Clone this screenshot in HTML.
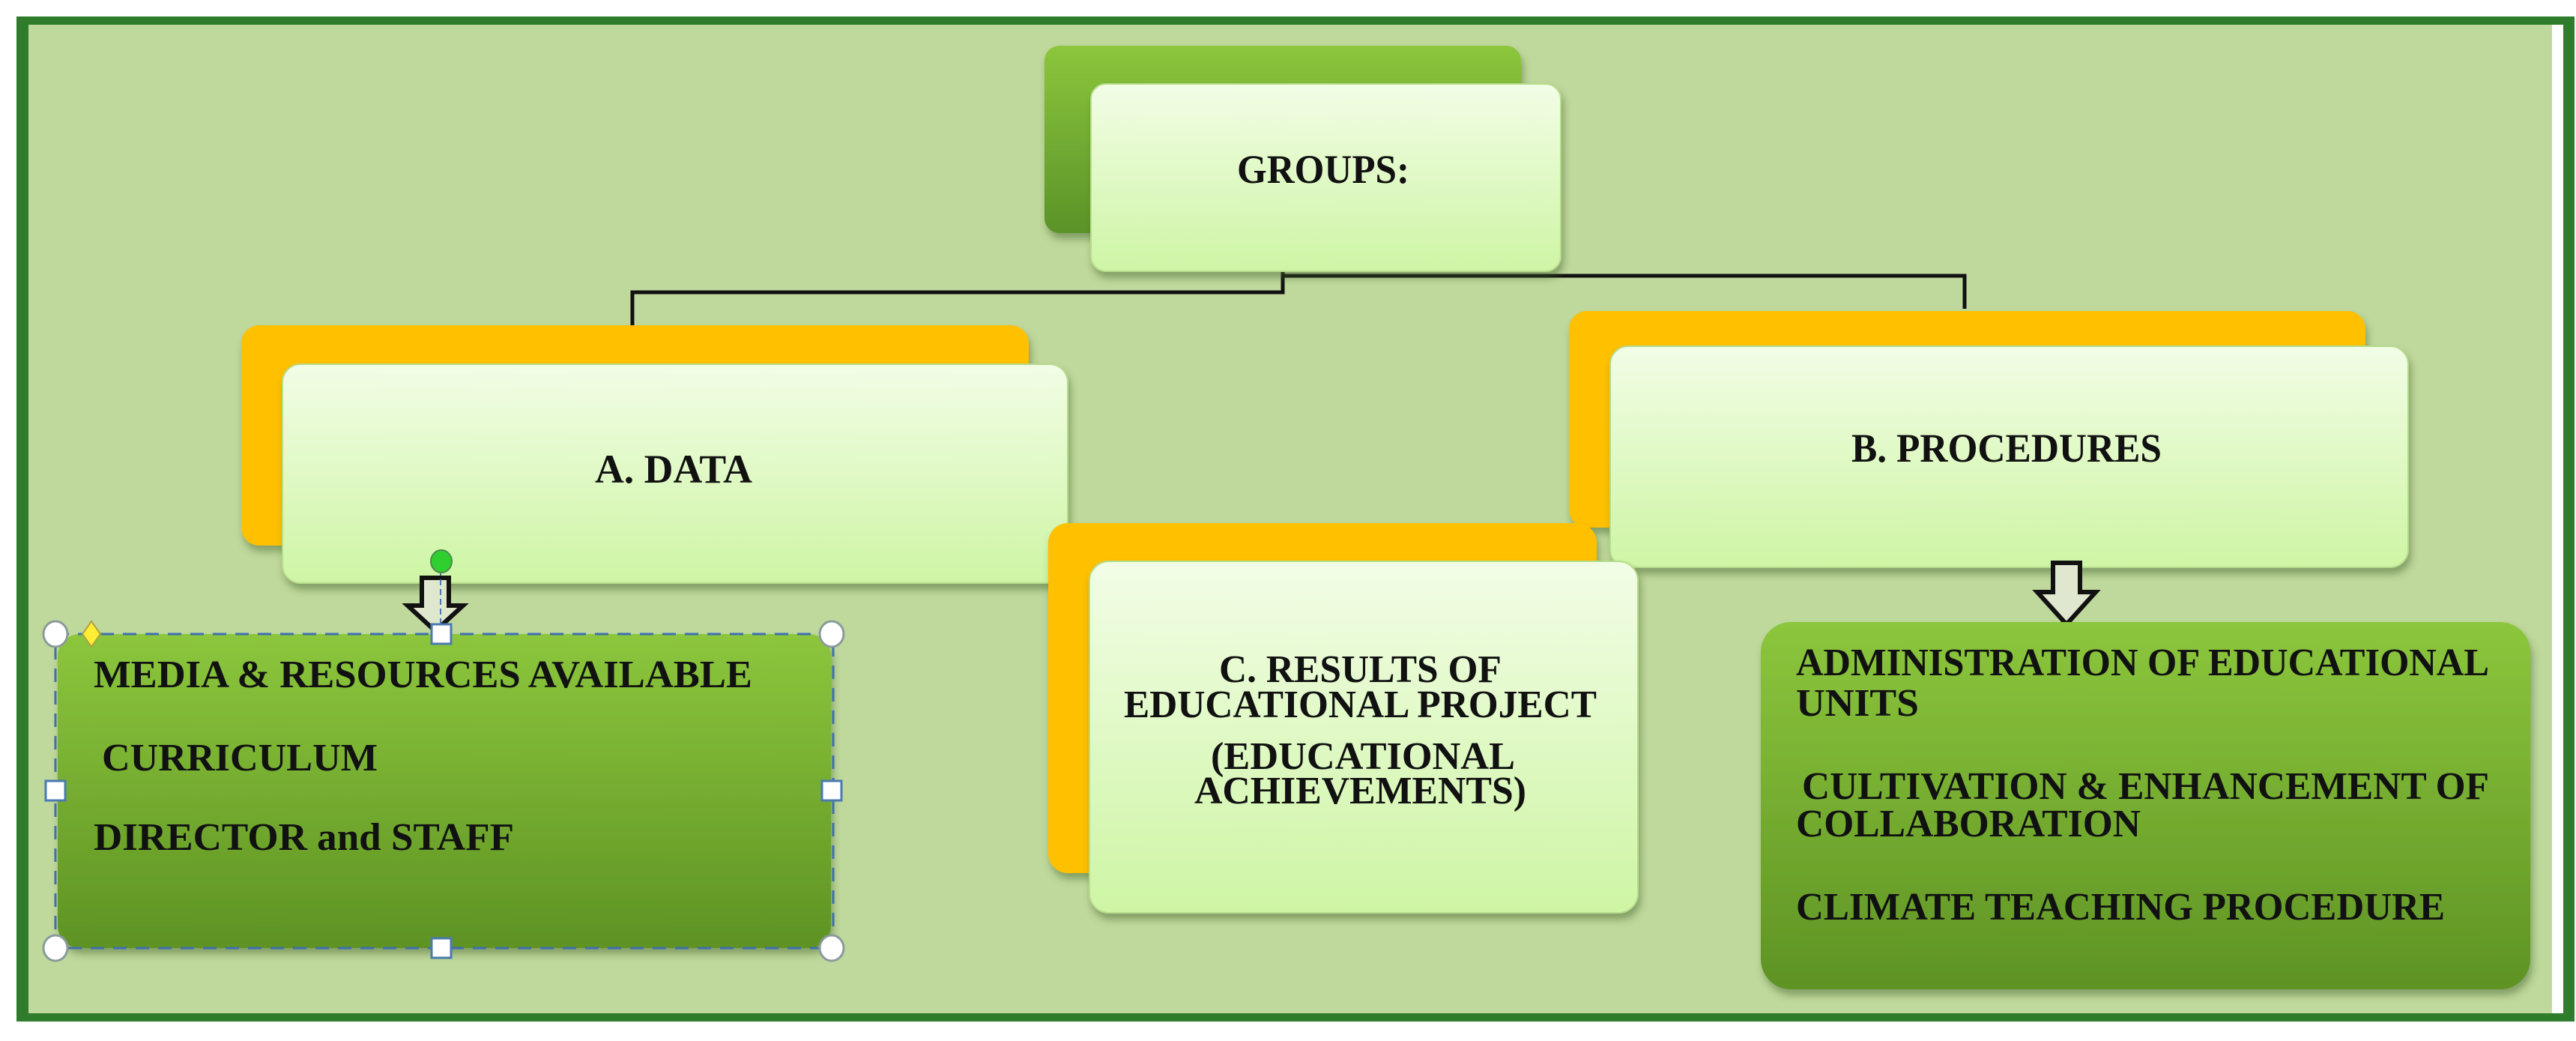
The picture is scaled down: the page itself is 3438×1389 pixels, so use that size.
<!DOCTYPE html>
<html><head><meta charset="utf-8"><style>
html,body{margin:0;padding:0;background:#fff;}
svg{display:block;}
text{font-family:"Liberation Serif",serif;font-weight:bold;fill:#111;}
</style></head><body>
<svg width="3438" height="1389" viewBox="0 0 3438 1389" xmlns="http://www.w3.org/2000/svg">
<defs>
<linearGradient id="pale" x1="0" y1="0" x2="0" y2="1"><stop offset="0" stop-color="#f2fde6"/><stop offset="1" stop-color="#cef5a4"/></linearGradient>
<linearGradient id="green" x1="0" y1="0" x2="0" y2="1"><stop offset="0" stop-color="#8cc63c"/><stop offset="1" stop-color="#5e9324"/></linearGradient>
<linearGradient id="gback" x1="0" y1="0" x2="0" y2="1"><stop offset="0" stop-color="#8cc63c"/><stop offset="1" stop-color="#5a9328"/></linearGradient>
<filter id="sh" x="-5%" y="-5%" width="110%" height="115%"><feDropShadow dx="3" dy="8" stdDeviation="5" flood-color="#3d5a20" flood-opacity="0.45"/></filter>
</defs>
<rect x="22" y="22" width="3414" height="1341" fill="#2f7d2c"/>
<rect x="38" y="33" width="3383" height="1319" fill="#fff"/>
<rect x="38" y="33" width="3368" height="1319" fill="#bfd89c"/>

<!-- connector -->
<polyline points="844,434 844,390 1712,390 1712,360" fill="none" stroke="#111" stroke-width="5"/>
<polyline points="1712,368 2622,368 2622,412" fill="none" stroke="#111" stroke-width="5"/>

<!-- GROUPS -->
<rect x="1394" y="61" width="636" height="250" rx="20" fill="url(#gback)" filter="url(#sh)"/>
<rect x="1456" y="112" width="627" height="250" rx="20" fill="url(#pale)" stroke="#b6dc8c" stroke-width="2" filter="url(#sh)"/>
<text x="1651" y="244" font-size="54" textLength="230" lengthAdjust="spacingAndGlyphs">GROUPS:</text>

<!-- A -->
<rect x="322" y="434" width="1051" height="294" rx="24" fill="#ffc000" filter="url(#sh)"/>
<rect x="377" y="486" width="1048" height="292" rx="24" fill="url(#pale)" stroke="#b6dc8c" stroke-width="2" filter="url(#sh)"/>
<text x="794" y="644" font-size="54" textLength="210" lengthAdjust="spacingAndGlyphs">A. DATA</text>

<!-- B -->
<rect x="2094" y="415" width="1063" height="289" rx="24" fill="#ffc000" filter="url(#sh)"/>
<rect x="2149" y="462" width="1065" height="295" rx="24" fill="url(#pale)" stroke="#b6dc8c" stroke-width="2" filter="url(#sh)"/>
<text x="2471" y="616" font-size="54" textLength="414" lengthAdjust="spacingAndGlyphs">B. PROCEDURES</text>

<!-- C -->
<rect x="1399" y="698" width="732" height="467" rx="26" fill="#ffc000" filter="url(#sh)"/>
<rect x="1454" y="749" width="732" height="469" rx="26" fill="url(#pale)" stroke="#b6dc8c" stroke-width="2" filter="url(#sh)"/>
<text x="1627" y="910" font-size="52" textLength="377" lengthAdjust="spacingAndGlyphs">C. RESULTS OF</text>
<text x="1500" y="957" font-size="52" textLength="631" lengthAdjust="spacingAndGlyphs">EDUCATIONAL PROJECT</text>
<text x="1616" y="1026" font-size="52" textLength="406" lengthAdjust="spacingAndGlyphs">(EDUCATIONAL</text>
<text x="1594" y="1072" font-size="52" textLength="443" lengthAdjust="spacingAndGlyphs">ACHIEVEMENTS)</text>

<!-- left arrow -->
<path d="M563,771 L599,771 L599,808 L618,808 L581,842 L544,808 L563,808 Z" fill="#dfe8cf" stroke="#111" stroke-width="6" stroke-linejoin="miter"/>
<line x1="588" y1="760" x2="588" y2="846" stroke="#4a7ab0" stroke-width="2" stroke-dasharray="8,5"/>
<ellipse cx="589" cy="749" rx="14" ry="15" fill="#2fcf2f" stroke="#4c8a4c" stroke-width="2"/>

<!-- left green box -->
<rect x="77" y="846" width="1032" height="419" rx="30" fill="url(#green)" filter="url(#sh)"/>
<rect x="74" y="846" width="1038" height="419" fill="none" stroke="#3f6fb0" stroke-width="3" stroke-dasharray="18,12"/>
<text x="125" y="917" font-size="52" textLength="879" lengthAdjust="spacingAndGlyphs">MEDIA &amp; RESOURCES  AVAILABLE</text>
<text x="136" y="1028" font-size="52" textLength="368" lengthAdjust="spacingAndGlyphs">CURRICULUM</text>
<text x="125" y="1134" font-size="52" textLength="561" lengthAdjust="spacingAndGlyphs">DIRECTOR  and STAFF</text>
<g fill="#fff" stroke="#8a9a9a" stroke-width="3">
<ellipse cx="74" cy="846" rx="16" ry="17"/><ellipse cx="1110" cy="846" rx="16" ry="17"/>
<ellipse cx="74" cy="1265" rx="16" ry="17"/><ellipse cx="1110" cy="1265" rx="16" ry="17"/>
</g>
<g fill="#fff" stroke="#4a7ab0" stroke-width="3">
<rect x="576" y="833" width="26" height="26"/><rect x="576" y="1252" width="26" height="26"/>
<rect x="61" y="1042" width="26" height="26"/><rect x="1097" y="1042" width="26" height="26"/>
</g>
<path d="M122,829 L134,846 L122,863 L110,846 Z" fill="#ffee33" stroke="#b0a040" stroke-width="2"/>

<!-- right arrow -->
<path d="M2740,751 L2776,751 L2776,790 L2797,790 L2758,833 L2719,790 L2740,790 Z" fill="#dfe8cf" stroke="#111" stroke-width="6"/>

<!-- right green box -->
<rect x="2350" y="830" width="1027" height="490" rx="40" fill="url(#green)" filter="url(#sh)"/>
<text x="2397" y="901" font-size="52" textLength="925" lengthAdjust="spacingAndGlyphs">ADMINISTRATION OF EDUCATIONAL</text>
<text x="2397" y="955" font-size="52" textLength="164" lengthAdjust="spacingAndGlyphs">UNITS</text>
<text x="2405" y="1066" font-size="52" textLength="917" lengthAdjust="spacingAndGlyphs">CULTIVATION &amp; ENHANCEMENT OF</text>
<text x="2397" y="1116" font-size="52" textLength="460" lengthAdjust="spacingAndGlyphs">COLLABORATION</text>
<text x="2397" y="1227" font-size="52" textLength="866" lengthAdjust="spacingAndGlyphs">CLIMATE TEACHING PROCEDURE</text>
</svg>
</body></html>
